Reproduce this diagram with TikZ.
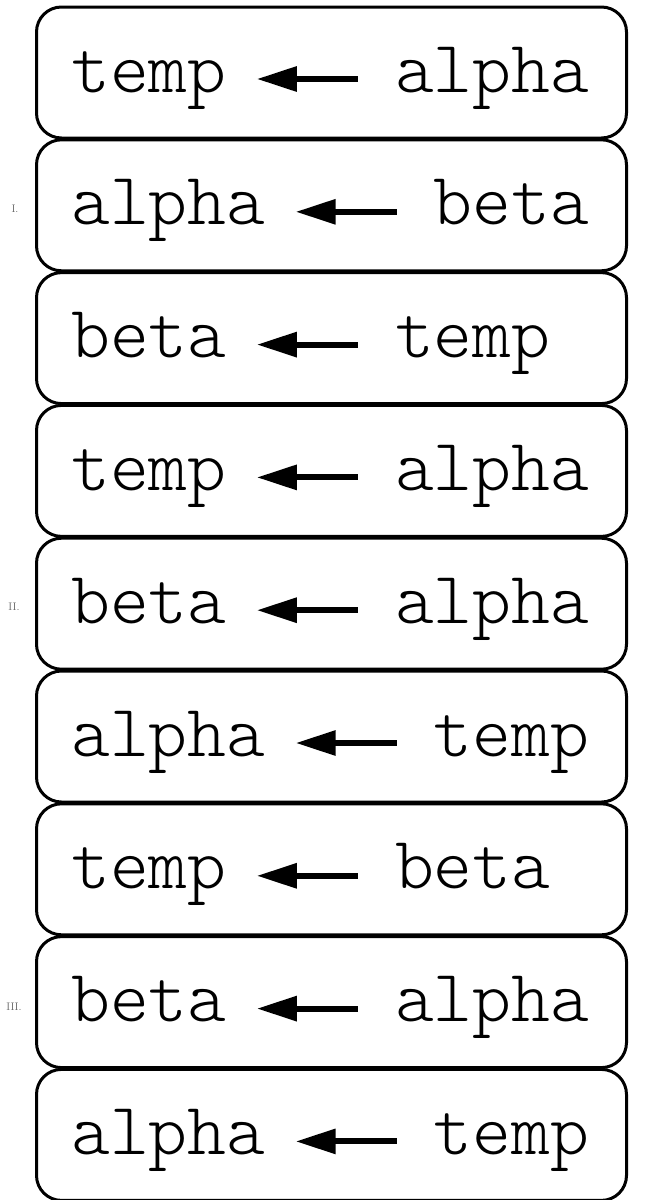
\documentclass[tikz,border=0pt]{standalone}
\usepackage{fontspec}
\setmonofont{Latin Modern Mono Light}
\usetikzlibrary{positioning}
\usetikzlibrary{arrows.meta}
\tikzset{
  stepbox/.style={draw, line width=3pt, rounded corners=25pt, minimum width=590pt, minimum height=131pt, inner sep=0pt},
  word/.style={font=\ttfamily\fontsize{74}{80}\selectfont, inner sep=0pt, text height=26pt, text depth=0pt},
  swaparrow/.style={-{Triangle[length=40pt,width=24pt]}, line width=6pt, shorten >=30pt, shorten <=37pt},
  roman/.style={font=\fontsize{11}{12}\selectfont, text=black!60, inner sep=0pt}
}
\newcommand{\assign}[4]{\node[stepbox] (#1) at (331.5, #2) {}; \node[word, anchor=west] (#1l) at (71, #2 + 6.5) {#3}; \node[word, right=168pt of #1l] (#1r) {#4}; \draw[swaparrow] (#1r) -- (#1l);}
\newcommand{\romlabel}[4]{\node[roman] (#1) at ( #2 , #3 ) {#4};}

\begin{document}
\begin{tikzpicture}[x=1pt, y=-1pt]
        \clip (0,0) rectangle (667,1200);
        \assign{rowA}{72.5}{temp}{alpha}
        \assign{rowB}{205.3}{alpha}{beta}
        \assign{rowC}{338.1}{beta}{temp}
        \assign{rowD}{470.9}{temp}{alpha}
        \assign{rowE}{603.7}{beta}{alpha}
        \assign{rowF}{736.5}{alpha}{temp}
        \assign{rowG}{869.3}{temp}{beta}
        \assign{rowH}{1002.1}{beta}{alpha}
        \assign{rowI}{1134.9}{alpha}{temp}
        \romlabel{labI}{15}{209}{I.}
        \romlabel{labII}{14}{607}{II.}
        \romlabel{labIII}{14}{1007}{III.}
    \end{tikzpicture}
\end{document}
